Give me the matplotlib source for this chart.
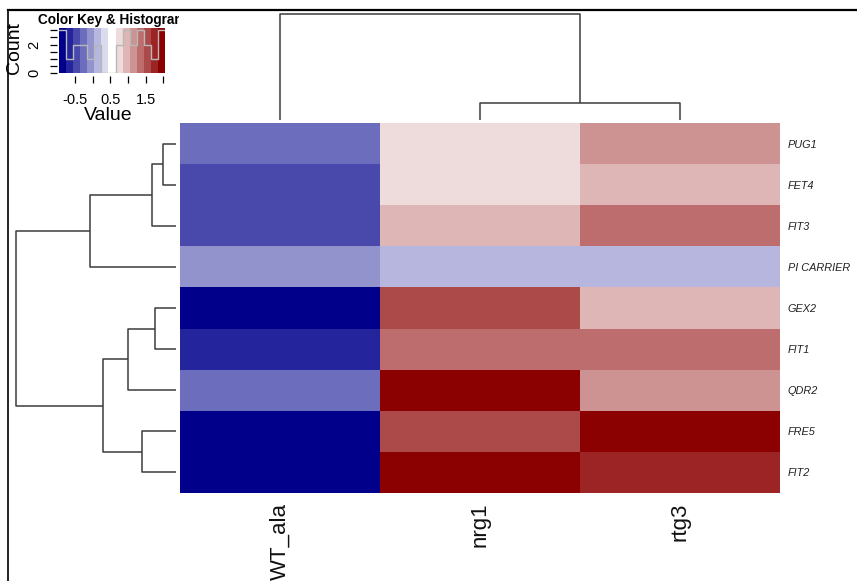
import numpy as np
import matplotlib
matplotlib.use("Agg")
import matplotlib.pyplot as plt
from matplotlib.colors import LinearSegmentedColormap, Normalize
from matplotlib.lines import Line2D

# expression matrix, rows in dendrogram order
genes = ["PUG1", "FET4", "FIT3", "PI CARRIER", "GEX2", "FIT1", "QDR2", "FRE5", "FIT2"]
samples = ["WT_ala", "nrg1", "rtg3"]

wt_ala = [-0.27, -0.46, -0.41, -0.08, -0.95, -0.62, -0.22, -0.88, -0.91]
nrg1 = [0.71, 0.74, 0.98, 0.12, 1.58, 1.32, 2.05, 1.52, 1.98]
rtg3 = [1.12, 0.92, 1.38, 0.18, 0.96, 1.36, 1.18, 1.96, 1.79]

# merges as (left, right, height); ids >= n_leaves refer to earlier merges
row_merges = [(0, 1, 0.26), (9, 2, 0.48), (10, 3, 1.72), (4, 5, 0.42),
              (12, 6, 0.96), (7, 8, 0.68), (13, 14, 1.46), (11, 15, 3.2)]
col_merges = [(1, 2, 0.55), (0, 3, 3.4)]

key_ticks = [-0.5, 0.0, 0.5, 1.0, 1.5, 2.0]
key_ticklabels = ["-0.5", "", "0.5", "", "1.5", ""]
count_ticks = [0, 0.5, 1, 1.5, 2, 2.5, 3]
count_ticklabels = ["0", "", "", "", "2", "", ""]
n_colors = 15

W, H = 857, 581
NARROW = ["Liberation Sans Narrow", "Liberation Sans", "DejaVu Sans"]
REG = ["Liberation Sans", "DejaVu Sans"]
LINE = "#3c3c3c"


def px_box(x0, y0, x1, y1):
    return [x0 / W, 1 - y1 / H, (x1 - x0) / W, (y1 - y0) / H]


def dendro_lines(merges, n_leaves):
    pos = {i: i + 0.5 for i in range(n_leaves)}
    hgt = {i: 0.0 for i in range(n_leaves)}
    out = []
    for k, (a, b, h) in enumerate(merges):
        out.append(([hgt[a], h, h, hgt[b]], [pos[a], pos[a], pos[b], pos[b]]))
        pos[n_leaves + k] = (pos[a] + pos[b]) / 2
        hgt[n_leaves + k] = h
    return out


data = np.column_stack([wt_ala, nrg1, rtg3])
vmin, vmax = data.min(), data.max()
cmap = LinearSegmentedColormap.from_list("blue_white_red", ["darkblue", "white", "darkred"], N=n_colors)
norm = Normalize(vmin=vmin, vmax=vmax)

fig = plt.figure(figsize=(W / 100, H / 100), dpi=100)

# heatmap
ax = fig.add_axes(px_box(180, 123, 780, 493))
ax.pcolormesh(np.arange(len(samples) + 1), np.arange(len(genes) + 1), data,
              cmap=cmap, norm=norm, edgecolors="face", linewidth=0)
ax.set_xlim(0, len(samples))
ax.set_ylim(len(genes), 0)
for s in ax.spines.values():
    s.set_visible(False)
ax.yaxis.tick_right()
ax.set_yticks(np.arange(len(genes)) + 0.5, genes, fontstyle="italic",
              fontsize=7.8, family=NARROW, color="#222222")
ax.set_xticks(np.arange(len(samples)) + 0.5, samples, rotation=90,
              fontsize=16, family=REG, color="#111111")
ax.tick_params(axis="y", length=0, pad=5.5)
ax.tick_params(axis="x", length=0, pad=7)

# row dendrogram
ax_r = fig.add_axes(px_box(16, 123, 176, 493))
for xs, ys in dendro_lines(row_merges, len(genes)):
    ax_r.plot(xs, ys, color=LINE, lw=1.1, clip_on=False, solid_capstyle="butt")
ax_r.set_xlim(row_merges[-1][2], 0)
ax_r.set_ylim(len(genes), 0)
ax_r.axis("off")

# column dendrogram
ax_c = fig.add_axes(px_box(180, 14, 780, 120))
for ys, xs in dendro_lines(col_merges, len(samples)):
    ax_c.plot(xs, ys, color=LINE, lw=1.1, clip_on=False, solid_capstyle="butt")
ax_c.set_xlim(0, len(samples))
ax_c.set_ylim(0, col_merges[-1][2])
ax_c.axis("off")

# colour key with histogram of all values
edges = np.linspace(vmin, vmax, n_colors + 1)
counts, _ = np.histogram(data.ravel(), bins=edges)
ax_k = fig.add_axes(px_box(59, 28, 165, 73))
ax_k.pcolormesh(edges, [0, 1], ((edges[:-1] + edges[1:]) / 2)[None, :],
                cmap=cmap, norm=norm, edgecolors="face", linewidth=0)
hy = np.append(counts, counts[-1]) / counts.max() * 0.95
ax_k.step(edges, hy, where="post", color="#b8b8b8", lw=1)
ax_k.set_xlim(vmin, vmax)
ax_k.set_ylim(0, 1)
for s in ax_k.spines.values():
    s.set_visible(False)
ax_k.spines["bottom"].set_position(("outward", 2.5))
ax_k.spines["left"].set_position(("outward", 1.5))
ax_k.set_xticks(key_ticks, key_ticklabels, fontsize=10.5, family=NARROW)
ax_k.set_yticks(np.array(count_ticks) / counts.max() * 0.95, count_ticklabels,
                fontsize=10.5, family=REG, rotation=90, va="center")
ax_k.tick_params(axis="x", length=5, width=0.9, pad=7)
ax_k.tick_params(axis="y", length=5, width=0.9, pad=6)

fig.text(108 / W, 1 - 115 / H, "Value", fontsize=14, family=NARROW,
         ha="center", va="center")
fig.text(15 / W, 1 - 48 / H, "Count", fontsize=14, family=REG,
         rotation=90, ha="center", va="center")

# key title, clipped at the panel edge
ax_t = fig.add_axes(px_box(8, 10, 179, 125))
ax_t.axis("off")
ax_t.text(30 / 171, 1 - 10 / 115, "Color Key & Histogram", fontsize=9.8,
          fontweight="bold", family=NARROW, ha="left", va="center",
          transform=ax_t.transAxes, clip_on=True)

# frame lines along the top and left edges
fig.add_artist(Line2D([8 / W, 1], [1 - 9.5 / H, 1 - 9.5 / H],
                      transform=fig.transFigure, color="black", lw=1.6))
fig.add_artist(Line2D([8 / W, 8 / W], [0, 1 - 9.5 / H],
                      transform=fig.transFigure, color="black", lw=1.2))

fig.savefig("out.png", dpi=100, facecolor="white")
